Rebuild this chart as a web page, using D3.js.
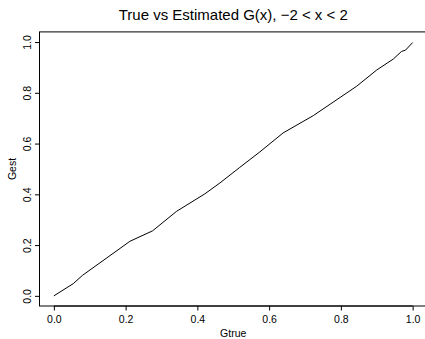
<!DOCTYPE html>
<html>
<head>
<meta charset="utf-8">
<script src="https://cdn.jsdelivr.net/npm/d3@7/dist/d3.min.js"></script>
<style>
  html, body { margin: 0; padding: 0; background: #fff; }
  svg { display: block; font-family: "Liberation Sans", Arial, Helvetica, sans-serif; }
</style>
</head>
<body>
<svg id="chart" width="425" height="339"></svg>
<script>
// True G(x) on the horizontal axis, estimated G(x) on the vertical axis
const gTrue = [0, 0.054, 0.080, 0.151, 0.212, 0.275, 0.342, 0.421, 0.463, 0.518,
               0.574, 0.639, 0.723, 0.844, 0.900, 0.946, 0.969, 0.980, 1.0];
const gEst  = [0, 0.048, 0.081, 0.153, 0.215, 0.256, 0.333, 0.402, 0.445, 0.506,
               0.567, 0.642, 0.710, 0.826, 0.890, 0.933, 0.963, 0.968, 0.998];
const xTicks = [0, 0.2, 0.4, 0.6, 0.8, 1.0];
const yTicks = [0, 0.2, 0.4, 0.6, 0.8, 1.0];
const titleText = "True vs Estimated G(x), \u22122 < x < 2";
const xLabel = "Gtrue";
const yLabel = "Gest";

const svg = d3.select("#chart");
const plot = { left: 39.5, right: 427, top: 31.9, bottom: 306 };

// axis ranges padded 4% on each side of the data range
const pad = 0.04;
const x = d3.scaleLinear().domain([0 - pad, 1 + pad]).range([plot.left, plot.right]);
const y = d3.scaleLinear().domain([0 - pad, 1 + pad]).range([plot.bottom, plot.top]);

const fmt = d3.format(".1f");

// bottom axis
const xAxis = svg.append("g")
  .attr("transform", `translate(0,${plot.bottom})`)
  .call(d3.axisBottom(x).tickValues(xTicks).tickFormat(fmt).tickSize(4.5).tickPadding(5));
xAxis.select(".domain").remove();
xAxis.append("line")
  .attr("x1", x(xTicks[0])).attr("x2", x(xTicks[xTicks.length - 1]))
  .attr("stroke", "#000");
xAxis.selectAll(".tick text").attr("font-size", 10.5).attr("fill", "#000")
  .attr("font-family", "Liberation Sans, Arial, sans-serif");

// left axis with rotated labels
const yAxis = svg.append("g")
  .attr("transform", `translate(${plot.left},0)`)
  .call(d3.axisLeft(y).tickValues(yTicks).tickFormat(fmt).tickSize(4.5));
yAxis.select(".domain").remove();
yAxis.selectAll(".tick text").remove();
yAxis.selectAll(".tick").append("text")
  .attr("transform", "translate(-9,0) rotate(-90)")
  .attr("text-anchor", "middle")
  .attr("font-size", 10.5)
  .attr("fill", "#000")
  .attr("font-family", "Liberation Sans, Arial, sans-serif")
  .text(d => fmt(d));

// plot frame
svg.append("rect")
  .attr("x", plot.left).attr("y", plot.top)
  .attr("width", plot.right - plot.left).attr("height", plot.bottom - plot.top)
  .attr("fill", "none").attr("stroke", "#000").attr("stroke-width", 1);

// estimated vs true curve
const pts = gTrue.map((v, i) => [v, gEst[i]]);
svg.append("path")
  .datum(pts)
  .attr("fill", "none")
  .attr("stroke", "#000")
  .attr("stroke-width", 1)
  .attr("d", d3.line().x(d => x(d[0])).y(d => y(d[1])));

// title and axis titles
svg.append("text")
  .attr("x", (plot.left + plot.right) / 2).attr("y", 20)
  .attr("text-anchor", "middle").attr("font-size", 15)
  .text(titleText);
svg.append("text")
  .attr("x", (plot.left + plot.right) / 2).attr("y", 337)
  .attr("text-anchor", "middle").attr("font-size", 10.5)
  .text(xLabel);
svg.append("text")
  .attr("transform", `translate(16,${(plot.top + plot.bottom) / 2}) rotate(-90)`)
  .attr("text-anchor", "middle").attr("font-size", 10.5)
  .text(yLabel);
</script>
</body>
</html>
